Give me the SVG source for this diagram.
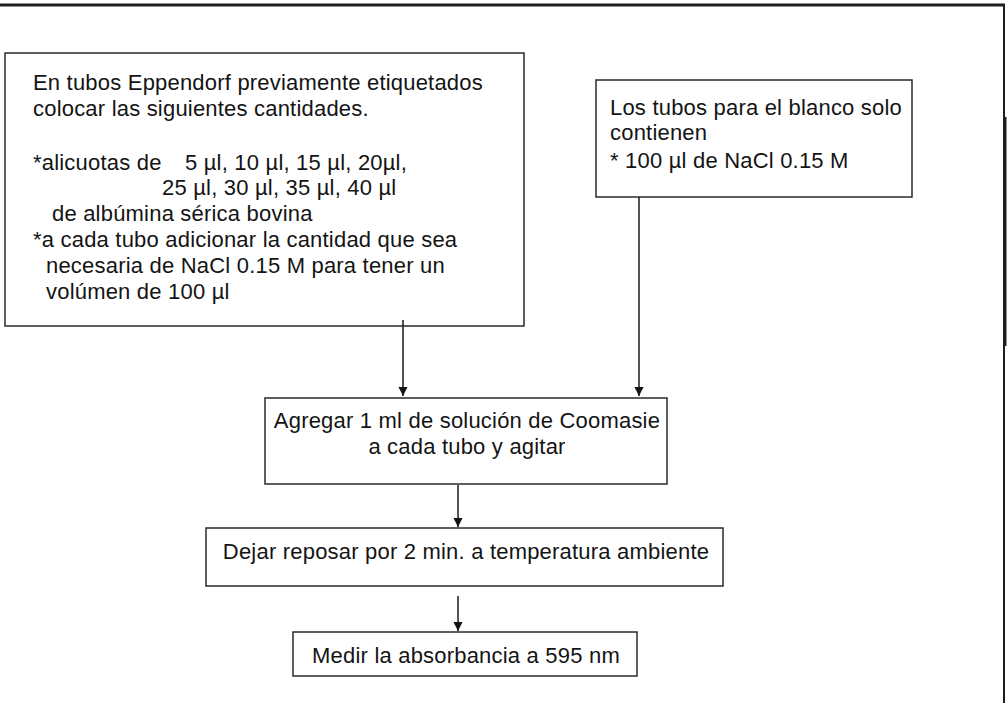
<svg xmlns="http://www.w3.org/2000/svg" width="1008" height="703" viewBox="0 0 1008 703">
<defs>
<style>
.box{fill:#fff;stroke:#2a2a2a;stroke-width:1.5}
.t{font-family:"Liberation Sans",Arial,sans-serif;font-size:22px;fill:#141414;letter-spacing:0.2px}
.c{text-anchor:middle}
.ln{stroke:#1a1a1a;stroke-width:1.5;fill:none}
.frame{stroke:#1e1e1e;fill:none}
</style>
<marker id="ah" viewBox="0 0 10 11" refX="10" refY="5.5" markerWidth="11" markerHeight="10" markerUnits="userSpaceOnUse" orient="auto">
<path d="M0,0.5 L10,5.5 L0,10.5 z" fill="#141414"/>
</marker>
</defs>
<rect width="1008" height="703" fill="#fff"/>
<g id="frame">
<line class="frame" x1="0" y1="5" x2="1005" y2="5" stroke-width="3"/>
<line class="frame" x1="1004" y1="4" x2="1004" y2="703" stroke-width="2"/>
<line class="frame" x1="1005" y1="117" x2="1005" y2="346" stroke-width="3"/>
</g>
<g id="node-eppendorf">
<rect class="box" x="5" y="53" width="519" height="273"/>
<text class="t" x="33" y="90">En tubos Eppendorf previamente etiquetados</text>
<text class="t" x="33" y="116">colocar las siguientes cantidades.</text>
<text class="t" x="33" y="170">*alicuotas de</text>
<text class="t" x="185" y="170">5 µl, 10 µl, 15 µl, 20µl,</text>
<text class="t" x="162" y="195">25 µl, 30 µl, 35 µl, 40 µl</text>
<text class="t" x="52" y="221">de albúmina sérica bovina</text>
<text class="t" x="33" y="247">*a cada tubo adicionar la cantidad que sea</text>
<text class="t" x="46" y="273">necesaria de NaCl 0.15 M para tener un</text>
<text class="t" x="46" y="299">volúmen de 100 µl</text>
</g>
<g id="node-blanco">
<rect class="box" x="596" y="80" width="316" height="117"/>
<text class="t" x="610" y="115">Los tubos para el blanco solo</text>
<text class="t" x="610" y="140">contienen</text>
<text class="t" x="610" y="168">* 100 µl de NaCl 0.15 M</text>
</g>
<g id="node-coomasie">
<rect class="box" x="265" y="398" width="402" height="86"/>
<text class="t c" x="467" y="428">Agregar 1 ml de solución de Coomasie</text>
<text class="t c" x="467" y="454">a cada tubo y agitar</text>
</g>
<g id="node-reposar">
<rect class="box" x="206" y="528" width="517" height="58"/>
<text class="t c" x="466" y="559">Dejar reposar por 2 min. a temperatura ambiente</text>
</g>
<g id="node-medir">
<rect class="box" x="293" y="632" width="344" height="44"/>
<text class="t c" x="466" y="663">Medir la absorbancia a 595 nm</text>
</g>
<g id="connectors">
<line class="ln" x1="403" y1="320" x2="403" y2="396" marker-end="url(#ah)"/>
<line class="ln" x1="639" y1="197" x2="639" y2="396" stroke-width="2" marker-end="url(#ah)"/>
<line class="ln" x1="458" y1="485" x2="458" y2="527" marker-end="url(#ah)"/>
<line class="ln" x1="458" y1="596" x2="458" y2="631" marker-end="url(#ah)"/>
</g>
</svg>
